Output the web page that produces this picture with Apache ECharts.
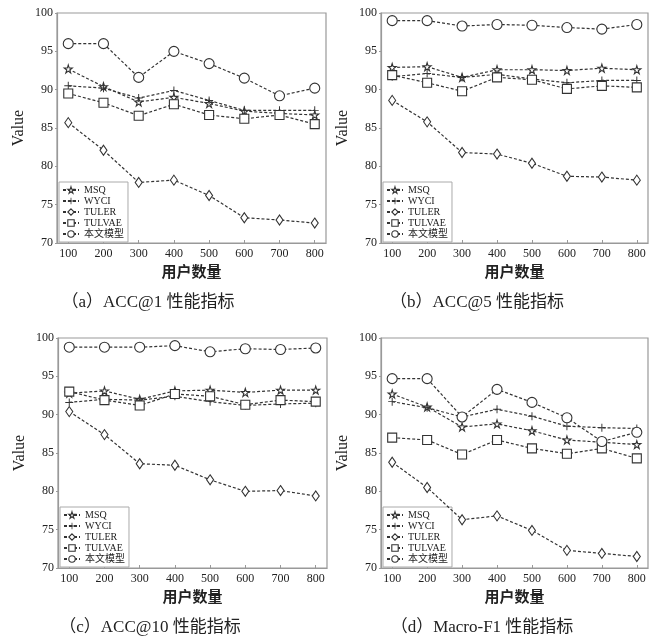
<!DOCTYPE html>
<html>
<head>
<meta charset="utf-8">
<script src="https://cdn.jsdelivr.net/npm/echarts@6/dist/echarts.min.js"></script>
<style>
  html, body { margin: 0; padding: 0; background: #fff; }
  #chart { width: 653px; height: 644px; }
</style>
</head>
<body>
<div id="chart"></div>
<script>
// x categories (number of users)
const users = [100, 200, 300, 400, 500, 600, 700, 800];
const methods = ['MSQ', 'WYCI', 'TULER', 'TULVAE', '本文模型'];

// rows follow the order of `methods`
const acc1 = [
    [92.7, 90.4, 88.4, 89.0, 88.2, 87.2, 86.9, 86.7],
    [90.5, 90.2, 88.9, 89.9, 88.6, 87.3, 87.3, 87.3],
    [85.7, 82.1, 77.9, 78.2, 76.2, 73.3, 73.0, 72.6],
    [89.5, 88.3, 86.6, 88.1, 86.7, 86.2, 86.7, 85.5],
    [96.0, 96.0, 91.6, 95.0, 93.4, 91.5, 89.2, 90.2]
];
const acc5 = [
    [92.9, 93.0, 91.6, 92.6, 92.6, 92.5, 92.8, 92.6],
    [91.7, 92.1, 91.6, 92.0, 91.4, 90.9, 91.2, 91.2],
    [88.6, 85.8, 81.8, 81.6, 80.4, 78.7, 78.6, 78.2],
    [91.9, 90.9, 89.8, 91.6, 91.3, 90.1, 90.5, 90.3],
    [99.0, 99.0, 98.3, 98.5, 98.4, 98.1, 97.9, 98.5]
];
const acc10 = [
    [92.8, 93.1, 92.0, 93.1, 93.2, 92.9, 93.2, 93.2],
    [91.6, 92.0, 91.9, 92.4, 91.7, 91.2, 91.4, 91.5],
    [90.4, 87.4, 83.6, 83.4, 81.5, 80.0, 80.1, 79.4],
    [93.0, 91.9, 91.2, 92.7, 92.4, 91.3, 91.9, 91.7],
    [98.8, 98.8, 98.8, 99.0, 98.2, 98.6, 98.5, 98.7]
];
const macroF1 = [
    [92.7, 91.0, 88.4, 88.8, 87.9, 86.7, 86.4, 86.1],
    [91.7, 90.9, 89.7, 90.7, 89.8, 88.5, 88.3, 88.2],
    [83.8, 80.5, 76.3, 76.8, 74.9, 72.3, 71.9, 71.5],
    [87.0, 86.7, 84.8, 86.7, 85.6, 84.9, 85.6, 84.3],
    [94.7, 94.7, 89.7, 93.3, 91.6, 89.6, 86.5, 87.7]
];
const captions = ['（a）ACC@1 性能指标', '（b）ACC@5 性能指标', '（c）ACC@10 性能指标', '（d）Macro-F1 性能指标'];
const panelData = [acc1, acc5, acc10, macroF1];

const serif = '"Liberation Serif", "Noto Sans CJK SC", serif';
const ink = '#333';

const symbols = [
    'path://M50,0 L61,35 L98,35 L68,57 L79,91 L50,70 L21,91 L32,57 L2,35 L39,35 Z',
    'path://M44,0 H56 V44 H100 V56 H56 V100 H44 V56 H0 V44 H44 Z',
    'diamond',
    'rect',
    'circle'
];
const symbolSizes = [8, 8, [7, 10], 9, 10];

function markStyle(m) {
    return m === 1
        ? { color: ink, borderWidth: 0 }
        : { color: '#fff', borderColor: ink, borderWidth: 1.1 };
}

// panel boxes
const boxes = [
    { left: 57, top: 13, width: 269, height: 230 },
    { left: 381, top: 13, width: 267, height: 230 },
    { left: 58, top: 338, width: 269, height: 230 },
    { left: 381, top: 338, width: 267, height: 230 }
];
const captionPos = [[148, 303], [477, 303], [150, 628], [482, 628]];

const grid = [], xAxis = [], yAxis = [], legend = [], series = [], graphic = [];

boxes.forEach((b, p) => {
    grid.push(Object.assign({
        show: true, borderColor: '#999', borderWidth: 1.2, backgroundColor: '#fff'
    }, b));
    xAxis.push({
        type: 'value', gridIndex: p, min: 68, max: 832,
        name: '用户数量', nameLocation: 'middle', nameGap: 21,
        nameTextStyle: { fontFamily: '"Noto Sans CJK SC"', fontWeight: 'bold', fontSize: 15, color: '#222' },
        axisLine: { show: true, onZero: false, lineStyle: { color: '#999', width: 1.2 } },
        axisTick: { show: true, inside: true, length: 3, customValues: users, lineStyle: { color: '#999' } },
        axisLabel: { customValues: users, margin: 5, fontFamily: serif, fontSize: 12, color: '#222' },
        splitLine: { show: false }
    });
    yAxis.push({
        type: 'value', gridIndex: p, min: 70, max: 100, interval: 5,
        name: 'Value', nameLocation: 'middle', nameGap: 30,
        nameTextStyle: { fontFamily: serif, fontSize: 16, color: '#222' },
        axisLine: { show: true, lineStyle: { color: '#999', width: 1.2 } },
        axisTick: { show: true, inside: false, length: 2, lineStyle: { color: '#999' } },
        axisLabel: { margin: 4, fontFamily: serif, fontSize: 12, color: '#222' },
        splitLine: { show: false }
    });
    legend.push({
        data: methods.map((name, m) => ({ name, itemStyle: markStyle(m) })),
        orient: 'vertical',
        left: b.left + 2, top: b.top + b.height - 61,
        itemWidth: 16, itemHeight: 8, itemGap: 1,
        padding: [3, 4, 3, 3],
        borderColor: '#aaa', borderWidth: 1, backgroundColor: '#fff',
        textStyle: { fontFamily: serif, fontSize: 10, color: '#222', lineHeight: 10 }
    });
    panelData[p].forEach((vals, m) => {
        series.push({
            type: 'line', name: methods[m], xAxisIndex: p, yAxisIndex: p,
            data: users.map((u, i) => [u, vals[i]]),
            symbol: symbols[m], symbolSize: symbolSizes[m],
            lineStyle: { color: ink, width: 1.2, type: [3, 2] },
            itemStyle: markStyle(m),
            emphasis: { disabled: true },
            z: 2 + m
        });
    });
    graphic.push({
        type: 'text', x: captionPos[p][0], y: captionPos[p][1],
        style: {
            text: captions[p], fill: '#222', fontSize: 17,
            fontFamily: serif, textAlign: 'center', textVerticalAlign: 'middle'
        }
    });
});

const chart = echarts.init(document.getElementById('chart'));
chart.setOption({
    backgroundColor: '#fff',
    animation: false,
    grid, xAxis, yAxis, legend, series, graphic
});
</script>
</body>
</html>
